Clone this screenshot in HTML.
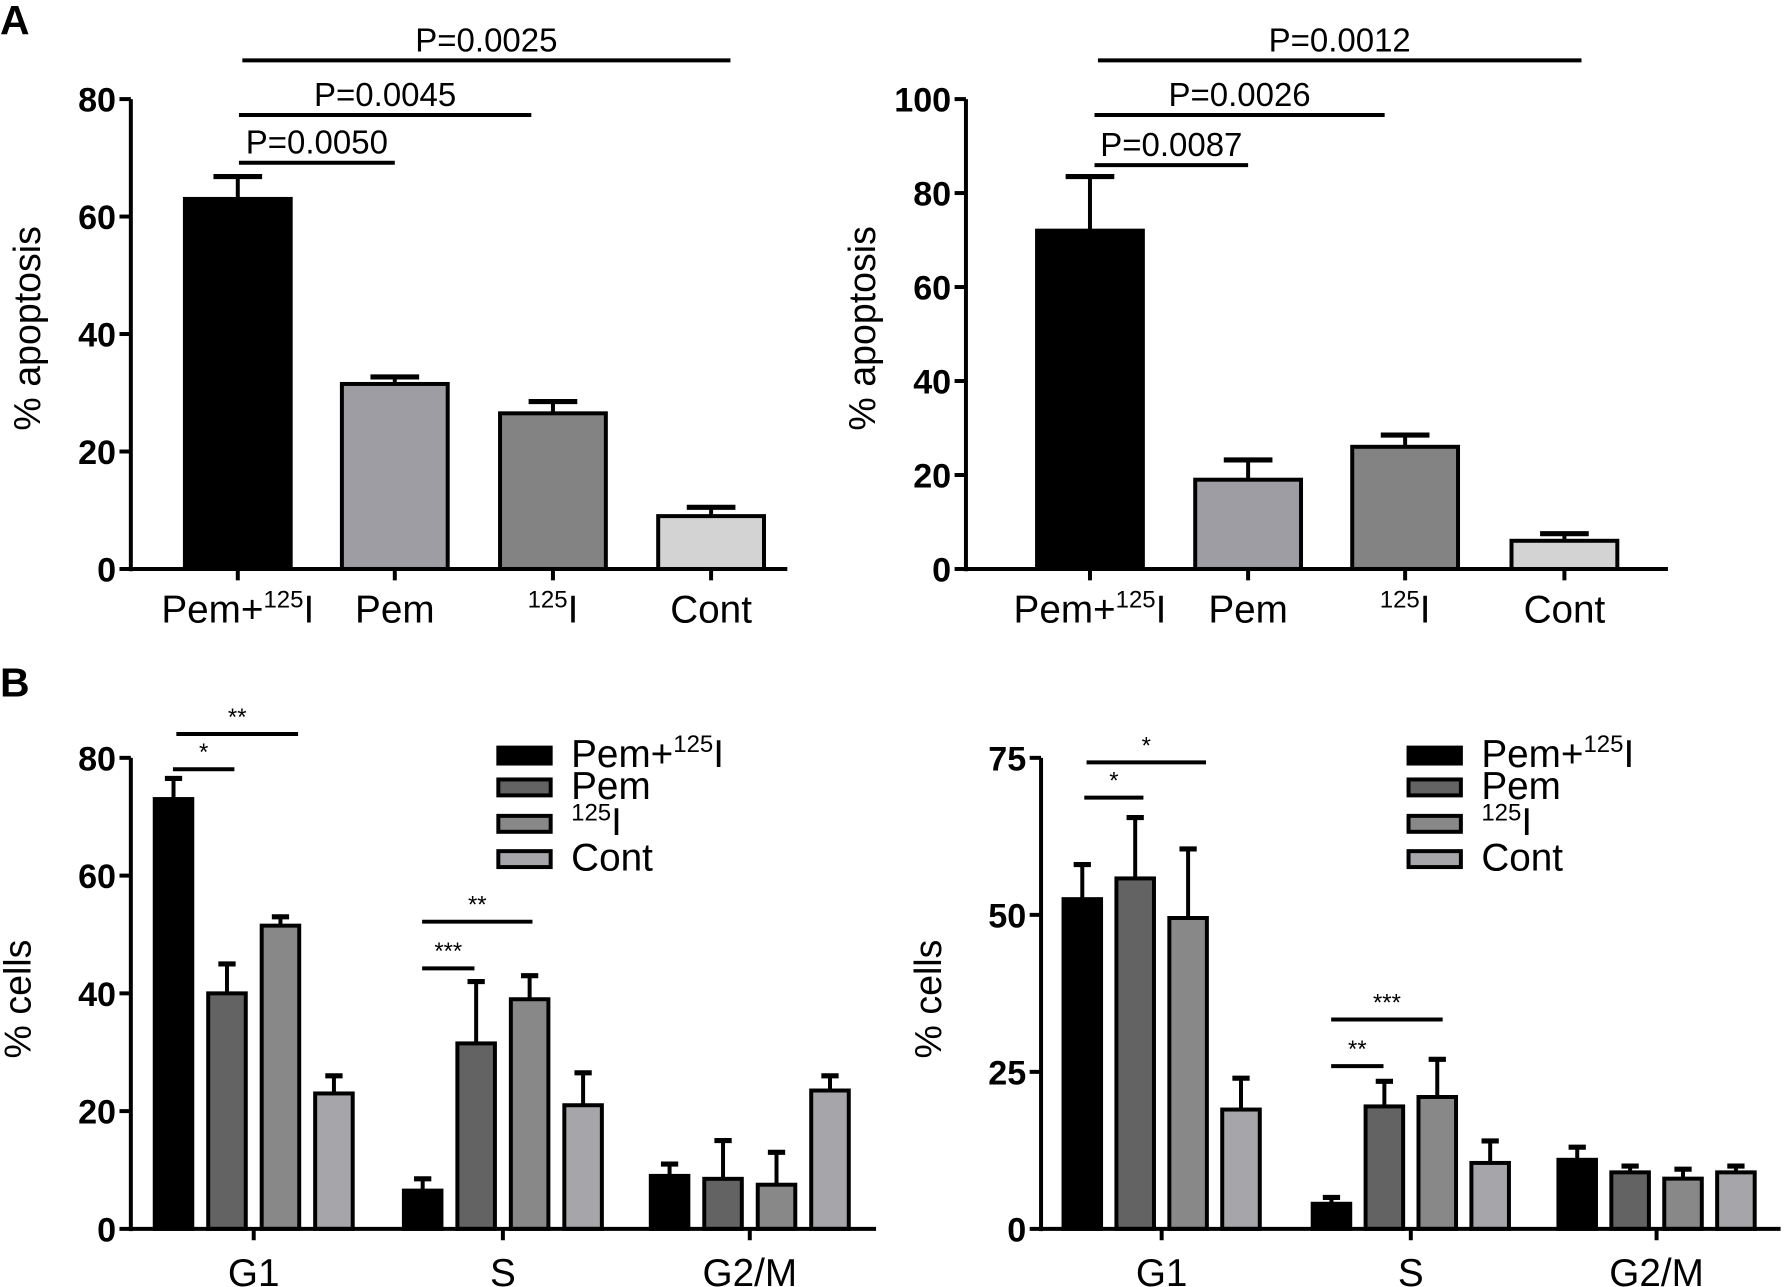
<!DOCTYPE html>
<html><head><meta charset="utf-8">
<style>
html,body{margin:0;padding:0;background:#fff;}
svg{display:block;font-family:"Liberation Sans",Arial,sans-serif;}
.tick{font-weight:bold;font-size:30px;}
</style></head>
<body>
<svg id="fig" width="1784" height="1287" viewBox="0 0 1568 1131" xmlns="http://www.w3.org/2000/svg">
<text x="0" y="30" font-size="36" font-weight="bold">A</text>
<text x="0" y="612" font-size="36" font-weight="bold">B</text>
</svg>
<script>
// ---------- data ----------
const catsA = ["Pem+125I","Pem","125I","Cont"];
const a1Values = [63, 31.5, 26.5, 9];
const a1Err = [3.8, 1.2, 2, 1.5];
const a1Ticks = [0,20,40,60,80];
const a2Values = [72, 19, 26, 6];
const a2Err = [11.5, 4.2, 2.5, 1.5];
const a2Ticks = [0,20,40,60,80,100];
const a1Sig = ["P=0.0050","P=0.0045","P=0.0025"];
const a2Sig = ["P=0.0087","P=0.0026","P=0.0012"];
const phases = ["G1","S","G2/M"];
const seriesB = ["Pem+125I","Pem","125I","Cont"];
const b1Pem125 = [73, 6.5, 9];
const b1Pem = [40, 31.5, 8.5];
const b1I125 = [51.5, 39, 7.5];
const b1Cont = [23, 21, 23.5];
const b1ErrPem125 = [3.5, 2, 2];
const b1ErrPem = [5, 10.5, 6.5];
const b1ErrI125 = [1.5, 4, 5.5];
const b1ErrCont = [3, 5.5, 2.5];
const b1Ticks = [0,20,40,60,80];
const b2Pem125 = [52.5, 4, 11];
const b2Pem = [55.8, 19.5, 9];
const b2I125 = [49.5, 21, 8];
const b2Cont = [19, 10.5, 9];
const b2ErrPem125 = [5.5, 1, 2];
const b2ErrPem = [9.7, 4, 1];
const b2ErrI125 = [11, 6, 1.5];
const b2ErrCont = [5, 3.5, 1];
const b2Ticks = [0,25,50,75];

const NS="http://www.w3.org/2000/svg";
const svg=document.getElementById('fig');
const SW=3.5;
function mk(tag,attrs,parent){const e=document.createElementNS(NS,tag);for(const k in attrs)e.setAttribute(k,attrs[k]);(parent||svg).appendChild(e);return e;}
function label(parent,x,y,txt,size,anchor,name){
  const t=mk('text',{x:x,y:y,'font-size':size,'text-anchor':anchor||'middle'},parent);
  
  
  if(txt.indexOf('125I')>=0){
    const pre=txt.replace('125I','');
    if(pre){const s=mk('tspan',{},t);s.textContent=pre;}
    const s2=mk('tspan',{'font-size':size*0.62,dy:-size*0.38},t);s2.textContent='125';
    const s3=mk('tspan',{dy:size*0.38},t);s3.textContent='I';
  } else t.textContent=txt;
  return t;
}
function yAxis(g,x,yScale,ticks,top,bottom){
  const l=mk('line',{x1:x,y1:top,x2:x,y2:bottom,stroke:'#000','stroke-width':SW},g);
  
  
  ticks.forEach(v=>{
    mk('line',{x1:x-10,y1:yScale(v),x2:x,y2:yScale(v),stroke:'#000','stroke-width':SW},g);
    const t=mk('text',{x:x-13,y:yScale(v)+11,'text-anchor':'end',class:'tick'},g);
    
    
    t.textContent=v;
  });
}
function bar(g,cx,w,v,err,yScale,fill,name){
  const y0=yScale(0),y=yScale(v),ye=yScale(v+err);
  mk('line',{x1:cx,y1:y,x2:cx,y2:ye,stroke:'#000','stroke-width':SW},g);
  mk('line',{x1:cx-w*0.23,y1:ye,x2:cx+w*0.23,y2:ye,stroke:'#000','stroke-width':4.5},g);
  const r=mk('rect',{x:cx-w/2,y:y,width:w,height:y0-y,fill:fill,stroke:'#000','stroke-width':SW},g);
  
  
}
function sig(g,x1,x2,y,txt,size,name){
  mk('line',{x1:x1,y1:y,x2:x2,y2:y,stroke:'#000','stroke-width':SW},g);
  const t=mk('text',{x:(x1+x2)/2,y:y-8,'text-anchor':'middle','font-size':size},g);
  
  
  t.textContent=txt;
}

// ---------- Panel A ----------
function panelA(ax,xEnd,y0,yTop,maxV,ticks,values,errs,centers,sigTxt,sigs,name){
  const g=mk('g',{});
  
  
  const yS=v=>y0-(v/maxV)*(y0-yTop);
  const fills=['#000','#9d9da3','#838383','#d3d3d3'];
  values.forEach((v,i)=>bar(g,centers[i],93,v,errs[i],yS,fills[i],'bar-'+i));
  yAxis(g,ax,yS,ticks,yTop,y0+2);
  mk('line',{x1:ax,y1:y0,x2:xEnd,y2:y0,stroke:'#000','stroke-width':SW},g);
  catsA.forEach((c,i)=>{
    mk('line',{x1:centers[i],y1:y0,x2:centers[i],y2:y0+10,stroke:'#000','stroke-width':SW},g);
    label(g,centers[i],y0+47,c,34,'middle','x-tick-label');
  });
  const tt=label(g,0,0,'% apoptosis',33,'middle','y-axis-title');
  tt.setAttribute('transform','translate('+(ax-80)+','+((y0+yTop)/2-5)+') rotate(-90)');
  sigs.forEach((s,i)=>sig(g,s[0],s[1],s[2],sigTxt[i],29,'p-value-'+i));
}
panelA(115,692,500,87,80,a1Ticks,a1Values,a1Err,[209,347,486,625],a1Sig,[[210,347,143],[210,467,101],[213,642,53]],'chart-a-left');
panelA(849,1466,500,87,100,a2Ticks,a2Values,a2Err,[958,1097,1235,1375],a2Sig,[[962,1097,145],[962,1217,101],[965,1390,53]],'chart-a-right');

// ---------- Panel B ----------
function panelB(ax,xEnd,y0,yTop,maxV,ticks,series,errs,groupC,sp,sigs,legX,name){
  const g=mk('g',{});
  
  
  const yS=v=>y0-(v/maxV)*(y0-yTop);
  const fills=['#000','#636363','#888888','#a6a6aa'];
  phases.forEach((p,gi)=>{
    series.forEach((s,si)=>{
      bar(g,groupC[gi]+(si-1.5)*sp,33,s[gi],errs[si][gi],yS,fills[si],'bar-'+p+'-'+si);
    });
  });
  yAxis(g,ax,yS,ticks,yTop,y0+2);
  mk('line',{x1:ax,y1:y0,x2:xEnd,y2:y0,stroke:'#000','stroke-width':SW},g);
  phases.forEach((p,gi)=>{
    mk('line',{x1:groupC[gi],y1:y0,x2:groupC[gi],y2:y0+10,stroke:'#000','stroke-width':SW},g);
    label(g,groupC[gi],y0+50,p,34,'middle','x-tick-label');
  });
  const tt=label(g,0,0,'% cells',33,'middle','y-axis-title');
  tt.setAttribute('transform','translate('+(ax-88)+','+((y0+yTop)/2+5)+') rotate(-90)');
  sigs.forEach((s,i)=>sig(g,s[0],s[1],s[2],s[3],21,'significance-'+i));
  const ly=[664,692,724,755];
  seriesB.forEach((s,i)=>{
    const r=mk('rect',{x:legX,y:ly[i]-7,width:46,height:14,fill:fills[i],stroke:'#000','stroke-width':SW},g);
    
    
    label(g,legX+64,ly[i]+10,s,34,'start','legend-entry');
  });
}
panelB(115,770,1080,666,80,b1Ticks,[b1Pem125,b1Pem,b1I125,b1Cont],[b1ErrPem125,b1ErrPem,b1ErrI125,b1ErrCont],[223,442,659],47,
  [[152,206,676,'*'],[155,262,645,'**'],[371,417,851,'***'],[371,468,810,'**']],438,'chart-b-left');
panelB(915,1565,1080,666,75,b2Ticks,[b2Pem125,b2Pem,b2I125,b2Cont],[b2ErrPem125,b2ErrPem,b2ErrI125,b2ErrCont],[1021,1240,1456],46.5,
  [[953,1005,701,'*'],[955,1060,670,'*'],[1170,1216,937,'**'],[1170,1268,896,'***']],1238,'chart-b-right');
</script>
</body></html>
